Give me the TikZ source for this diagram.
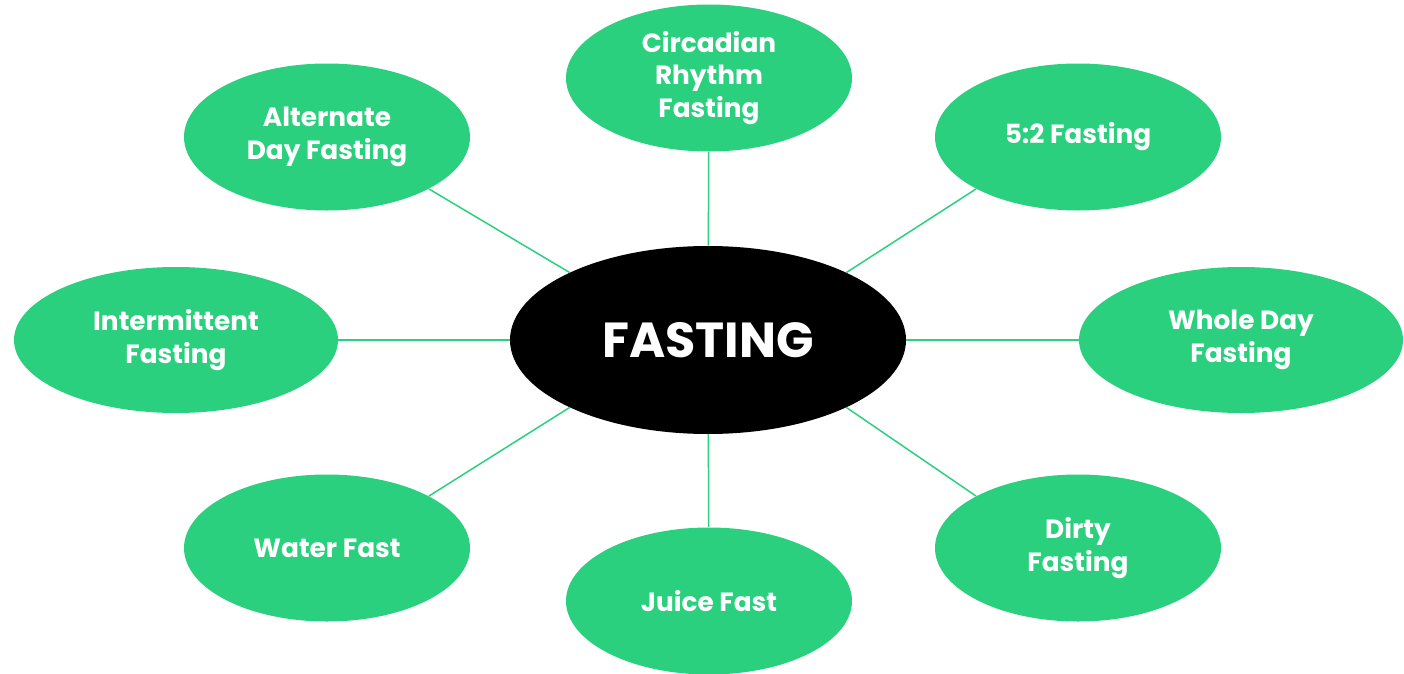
\documentclass[tikz,border=0pt]{standalone}
\usepackage{fontspec}
\setmainfont{Poppins}
\usetikzlibrary{shapes,positioning}
\definecolor{leafgreen}{HTML}{2AD07E}
\tikzstyle{edge} =[draw=leafgreen, line width=0.85pt]
\tikzstyle{topic}=[ellipse, fill=leafgreen, text=white, align=center,
                   font=\bfseries\fontsize{15}{18.4}\selectfont,
                   minimum width=5.72cm, minimum height=2.94cm,
                   inner sep=0pt]
\tikzstyle{hub}  =[ellipse, fill=black, text=white,
                   font=\bfseries\fontsize{28}{32}\selectfont,
                   minimum width=7.92cm, minimum height=3.76cm,
                   inner sep=0pt]

\begin{document}
\begin{tikzpicture}
    \useasboundingbox (0,0) rectangle (28.08,-13.48);

    \node[hub] (fasting) at (14.16,-6.80) {FASTING};

    \node[topic] (circadian) at (14.18,-1.56) {Circadian\\Rhythm\\Fasting};
    \node[topic] (fivetwo) at (21.56,-2.74) {5:2 Fasting};
    \node[topic, minimum width=6.48cm, minimum height=2.92cm] (wholeday) at (24.82,-6.80) {Whole Day\\Fasting};
    \node[topic] (dirty) at (21.56,-10.96) {Dirty\\Fasting};
    \node[topic] (juice) at (14.18,-12.02) {Juice Fast};
    \node[topic] (water) at (6.54,-10.96) {Water Fast};
    \node[topic, minimum width=6.48cm, minimum height=2.92cm] (intermittent) at (3.52,-6.80) {Intermittent\\Fasting};
    \node[topic] (alternate) at (6.54,-2.74) {Alternate\\Day Fasting};

    % straight spokes
    \foreach \t in {circadian,wholeday,juice,intermittent}
        \draw[edge] (fasting) -- (\t);
    % slanted spokes
    \draw[edge] (fasting.154) -- (alternate.-27);
    \draw[edge] (fasting.26) -- (fivetwo.207);
    \draw[edge] (fasting.-26) -- (dirty.153);
    \draw[edge] (fasting.206) -- (water.27);
\end{tikzpicture}
\end{document}
